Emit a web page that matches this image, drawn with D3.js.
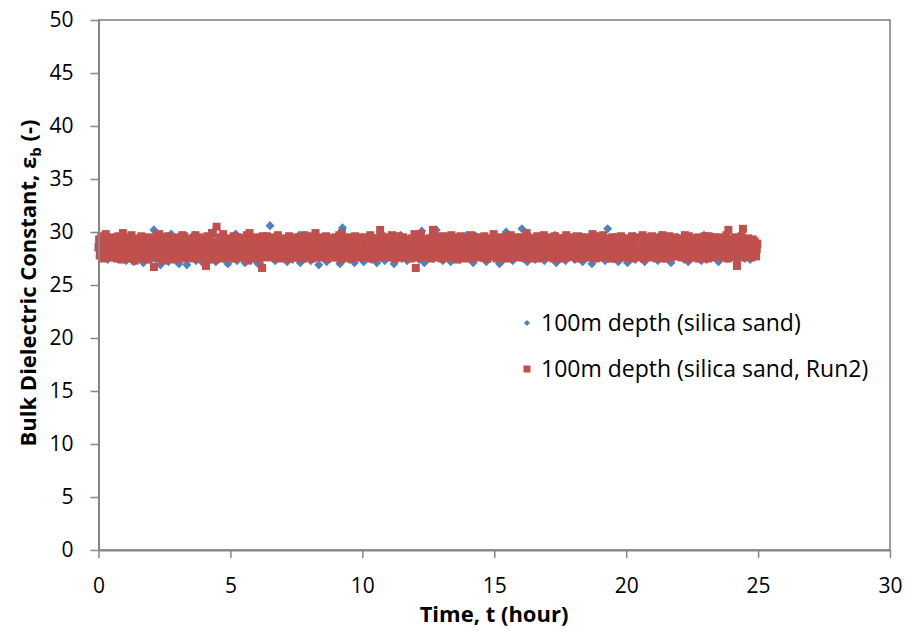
<!DOCTYPE html>
<html>
<head>
<meta charset="utf-8">
<script src="https://cdn.jsdelivr.net/npm/d3@7"></script>
<style>
  body { margin: 0; background: #fff; }
  svg { display: block; font-family: "Open Sans", "Noto Sans", sans-serif; }
  .tick text { font-size: 21px; fill: #000; }
  .title { font-size: 22px; font-weight: bold; }
  .legend text { font-size: 23px; }
</style>
</head>
<body>
<svg width="905" height="631"></svg>
<script>
// logger sampling (hours): run 1 every 0.05 h, run 2 every 0.025 h
var timeStart = 0, stepRun1 = 0.05, stepRun2 = 0.025;

// 100m depth (silica sand), 20 readings per hour
var silica = [
  28.3,27.6,29.1,28.8,27.9,28.5,29.4,27.4,28.1,29.0,28.6,27.8,29.3,28.2,27.5,28.9,29.5,28.0,27.7,28.7,
  29.2,27.3,28.4,28.9,27.9,29.6,28.1,27.2,28.7,29.0,28.3,27.6,29.4,28.5,27.1,28.8,29.1,27.8,28.2,29.3,
  27.4,28.6,30.2,28.0,27.5,29.2,28.4,26.9,28.9,29.5,27.7,28.3,29.0,27.2,28.6,29.8,28.1,27.6,28.8,29.1,
  28.2,27.0,29.3,28.5,27.8,29.6,28.0,26.9,28.7,29.2,27.5,28.4,29.7,28.1,27.3,28.9,29.4,27.9,28.3,27.1,
  29.0,28.5,27.6,29.5,28.2,27.4,28.8,30.0,28.4,27.2,28.9,29.3,27.8,28.6,29.6,27.5,28.1,29.1,27.0,28.7,
  28.4,29.2,27.7,28.9,29.8,27.3,28.3,29.0,27.9,28.6,29.4,27.1,28.8,29.5,28.0,27.6,29.2,28.5,27.4,29.0,
  28.1,27.0,29.3,28.7,26.8,28.4,29.6,27.8,28.9,29.1,30.6,28.3,27.5,28.0,27.3,28.8,29.4,27.9,28.6,29.2,
  27.6,28.5,29.0,27.2,28.8,29.5,28.2,27.4,28.6,29.3,27.9,28.1,29.7,27.1,28.4,29.0,28.7,27.5,29.2,28.3,
  28.9,27.3,28.5,29.4,27.8,28.2,29.6,26.9,28.7,29.1,27.6,28.4,29.0,27.2,28.8,29.5,28.0,27.7,29.3,28.6,
  27.9,28.4,29.2,27.0,28.7,30.4,28.1,27.5,28.9,29.3,27.4,28.6,29.0,28.2,27.1,28.8,29.5,27.8,28.3,29.1,
  28.5,27.2,29.4,28.0,27.7,28.9,29.6,27.4,28.3,29.0,28.7,27.1,29.2,28.4,27.8,29.5,28.1,27.3,28.8,29.3,
  28.2,27.6,29.1,28.6,27.0,28.9,29.4,27.8,28.4,29.7,27.5,28.1,29.0,28.7,27.3,28.5,29.2,27.9,28.3,29.5,
  27.7,28.8,29.3,27.4,28.2,30.1,28.6,27.1,28.9,29.2,27.8,28.4,29.6,28.0,27.5,28.7,30.2,27.6,28.3,29.0,
  28.6,27.3,29.1,28.8,27.9,28.2,29.5,27.2,28.5,29.4,27.7,28.9,29.0,28.1,27.4,28.6,29.3,27.8,28.4,29.7,
  28.0,27.5,29.2,28.7,27.1,28.4,29.6,27.9,28.8,29.1,27.6,28.3,29.4,28.5,27.2,28.9,29.0,27.7,28.2,29.5,
  28.4,27.8,29.3,28.1,27.0,28.7,29.5,27.4,28.9,30.0,27.6,28.2,29.1,28.6,27.3,28.8,29.4,27.9,28.5,29.2,
  28.3,30.3,27.5,28.8,29.0,27.2,28.5,29.6,27.8,28.1,29.3,27.4,28.7,29.5,28.0,27.6,28.9,29.1,27.3,28.4,
  29.0,27.7,28.6,29.4,27.9,28.2,29.7,27.1,28.8,29.2,27.5,28.4,29.0,28.7,27.3,28.5,29.5,27.8,28.1,29.3,
  28.6,27.4,29.1,28.3,27.8,28.9,29.6,27.2,28.5,29.0,27.7,28.2,29.4,28.8,27.0,28.4,29.2,27.6,28.7,29.5,
  28.1,27.9,29.3,28.6,27.3,28.8,30.3,27.5,28.4,29.1,27.8,28.0,29.5,28.7,27.2,28.9,29.0,27.6,28.3,29.4,
  28.5,27.1,29.2,28.2,27.7,28.9,29.6,27.4,28.6,29.3,27.9,28.3,29.0,28.8,27.2,28.4,29.5,27.8,28.1,29.1,
  28.7,27.5,29.4,28.0,27.3,28.6,29.7,27.9,28.8,29.2,27.6,28.4,29.0,28.5,27.1,28.9,29.3,27.7,28.2,29.5,
  28.3,27.8,29.1,28.7,27.4,28.5,29.6,27.2,28.9,29.0,27.9,28.1,29.4,28.6,27.5,28.8,29.2,27.3,28.4,29.7,
  28.6,27.4,29.3,28.2,27.9,28.8,29.5,27.6,28.4,29.1,27.2,28.7,29.0,28.3,27.8,28.5,29.4,27.5,28.9,29.2,
  28.2,27.7,29.1,28.6,27.3,28.9,29.6,27.8,28.4,29.0,27.5,28.3,29.3,28.7,27.4,28.8,29.2,27.9,28.5,28.6
];

// 100m depth (silica sand, Run2), 40 readings per hour
var silicaRun2 = [
  28.6,29.3,27.8,28.2,29.6,28.9,27.5,28.4,29.1,27.9,28.7,29.8,28.0,27.6,29.2,28.5,27.8,29.4,28.3,27.7,
  28.9,29.5,27.6,28.4,29.0,27.9,28.7,29.3,27.5,28.1,29.6,28.8,27.7,28.3,29.2,27.4,28.6,29.9,28.0,27.8,
  29.1,28.4,27.6,29.5,28.2,27.9,28.8,29.3,27.5,28.6,29.7,28.1,27.7,29.0,28.5,27.3,28.9,29.4,27.8,28.3,
  28.7,27.6,29.2,28.4,27.9,29.6,28.1,27.5,28.9,29.3,27.7,28.5,29.0,28.2,27.4,28.8,29.5,27.8,28.6,29.1,
  27.9,28.5,29.4,28.1,26.7,29.0,28.7,27.8,29.7,28.3,27.5,28.9,29.8,28.0,27.7,29.2,28.4,27.3,28.8,29.5,
  28.2,27.7,29.1,28.6,27.9,29.6,28.4,27.5,28.8,29.3,28.0,27.6,29.0,28.5,27.8,29.4,28.1,27.4,28.9,29.2,
  28.5,27.8,29.5,28.2,27.6,29.1,28.7,29.7,27.9,28.4,29.6,28.0,27.5,28.8,29.3,27.7,28.3,29.0,28.6,27.9,
  29.2,28.1,27.6,29.4,28.5,27.8,28.9,29.7,27.5,28.3,29.0,28.6,27.7,29.5,28.2,27.9,28.8,29.3,27.6,28.4,
  28.7,27.9,29.1,26.8,27.5,29.6,28.0,27.8,28.9,29.4,27.6,28.5,29.9,28.2,27.7,29.0,28.6,27.4,28.8,30.5,
  28.1,27.7,29.5,28.4,27.9,29.2,28.7,27.5,28.9,29.8,28.0,27.6,29.1,28.5,27.8,29.4,28.2,27.6,28.8,29.0,
  28.4,27.8,29.3,28.6,27.5,29.6,28.1,27.9,28.9,29.2,27.7,28.3,29.5,28.0,27.6,29.0,28.7,27.8,28.5,29.4,
  28.8,27.6,29.1,28.2,27.9,29.7,28.5,27.3,28.7,29.9,28.1,27.8,29.3,28.4,27.6,29.0,28.9,27.7,28.3,29.5,
  28.0,27.9,29.4,28.6,27.5,29.2,28.3,27.8,26.6,29.6,27.7,28.5,29.0,28.2,27.6,29.6,28.7,27.9,28.4,29.3,
  28.6,27.7,29.2,28.3,27.9,29.5,28.0,27.6,28.8,29.1,27.8,28.4,29.7,28.1,27.5,29.0,28.7,27.9,28.5,29.4,
  28.3,27.6,29.3,28.7,27.8,29.0,28.2,27.5,28.9,29.6,28.0,27.7,29.2,28.5,27.9,29.4,28.1,27.6,28.8,29.1,
  28.7,27.9,29.5,28.0,27.6,29.2,28.6,27.8,28.4,29.0,27.5,28.9,29.7,28.2,27.7,29.3,28.5,27.8,28.1,29.6,
  28.4,27.8,29.1,28.8,27.5,29.4,28.1,27.7,28.9,29.9,27.6,28.3,29.0,28.6,27.9,29.5,28.2,27.6,28.7,29.2,
  28.2,27.7,29.3,28.5,27.9,29.6,28.0,27.5,28.8,29.1,27.8,28.4,29.4,28.7,27.6,29.0,28.3,27.9,28.6,29.5,
  28.9,27.6,29.2,28.1,27.8,29.7,28.5,27.4,28.6,29.9,28.2,27.7,29.1,28.4,27.9,29.3,28.8,27.6,28.0,29.5,
  28.3,27.9,29.4,28.6,27.5,29.0,28.2,27.8,28.9,29.6,27.7,28.4,29.2,28.7,27.6,29.5,28.1,27.9,28.5,29.1,
  28.6,27.7,29.3,28.2,27.9,29.5,28.4,27.6,28.8,29.0,27.8,28.5,29.7,28.0,27.5,29.2,28.7,27.9,28.3,29.4,
  28.1,27.8,29.1,28.7,27.6,29.4,28.3,30.2,28.9,29.6,28.0,27.7,29.2,28.5,27.9,29.0,28.6,27.8,28.4,29.5,
  28.5,27.6,29.3,28.0,27.8,29.7,28.6,27.9,28.2,29.1,27.5,28.8,29.4,28.3,27.7,29.6,28.1,27.6,28.9,29.2,
  28.4,27.9,29.5,28.7,27.6,29.0,28.2,27.8,28.5,29.3,27.7,28.6,29.1,28.0,27.5,29.4,28.8,27.9,28.3,29.8,
  28.7,26.6,29.2,28.1,27.6,29.5,28.5,27.7,28.9,29.8,28.0,27.6,29.3,28.4,27.9,29.0,28.6,27.8,28.2,29.1,
  28.3,27.7,29.4,28.8,27.5,29.1,28.0,30.2,28.6,29.5,27.8,28.2,29.0,28.5,27.6,29.6,28.1,27.9,28.7,29.3,
  28.9,27.5,29.2,28.3,27.8,29.6,28.6,27.7,28.1,29.0,27.9,28.5,29.4,28.2,27.6,29.7,28.4,27.8,28.8,29.1,
  28.0,27.8,29.5,28.6,27.4,29.2,28.3,27.9,28.7,29.6,27.6,28.1,29.3,28.9,27.7,29.0,28.4,27.5,28.6,29.4,
  28.5,27.6,29.1,28.2,27.9,29.7,28.8,27.5,28.3,29.4,28.0,27.7,29.2,28.6,27.8,29.5,28.1,27.6,28.9,29.0,
  28.7,27.9,29.3,28.4,27.6,29.6,28.1,27.8,28.5,29.2,27.5,28.8,29.0,28.3,27.7,29.4,28.6,27.9,28.2,29.8,
  28.2,27.7,29.4,28.9,27.5,29.1,28.4,27.8,28.6,29.5,27.9,28.0,29.3,28.7,27.6,29.0,28.3,27.7,28.8,29.6,
  28.6,27.5,29.2,28.1,27.8,29.7,28.5,27.6,28.9,29.3,28.0,27.9,29.0,28.4,27.7,29.5,28.2,27.6,28.7,29.1,
  28.4,27.8,29.5,28.7,27.6,29.0,28.2,27.9,28.5,29.9,27.7,28.3,29.2,28.8,27.5,29.4,28.0,27.8,28.6,29.3,
  28.9,27.6,29.1,28.3,27.9,29.6,28.6,27.5,28.1,29.4,27.8,28.7,29.0,28.2,27.6,29.7,28.5,27.9,28.4,29.2,
  28.1,27.9,29.3,28.6,27.7,29.5,28.4,27.6,28.8,29.1,27.5,28.2,29.6,28.9,27.8,29.0,28.3,27.7,28.5,29.4,
  28.7,27.5,29.4,28.0,27.8,29.2,28.6,27.9,28.3,29.7,27.6,28.8,29.1,28.4,27.7,29.5,28.1,27.8,28.9,29.0,
  28.3,27.8,29.2,28.8,27.6,29.6,28.1,27.5,28.7,29.3,27.9,28.4,29.5,28.0,27.7,29.1,28.6,27.6,28.2,29.4,
  28.5,27.7,29.5,28.2,27.9,29.0,28.7,27.6,28.4,29.8,27.8,28.1,29.3,28.6,27.5,29.6,28.3,27.9,28.8,29.2,
  28.0,27.6,29.3,28.5,27.8,29.7,28.3,27.9,28.9,29.1,27.7,28.6,29.0,28.2,27.6,29.4,28.7,27.5,28.4,29.5,
  28.8,27.9,29.1,28.4,27.5,29.5,28.0,27.7,28.6,29.2,27.8,28.3,29.6,28.9,27.6,29.0,28.2,27.8,28.5,29.3,
  28.2,27.6,29.4,28.7,27.9,29.1,28.5,27.8,28.1,29.6,27.5,28.8,29.2,28.3,27.7,29.5,28.6,27.9,28.0,29.0,
  28.6,27.8,29.2,28.0,27.6,29.7,28.4,27.5,28.9,29.3,27.9,28.2,29.0,28.7,27.8,29.4,28.1,27.6,28.5,29.6,
  28.4,27.7,29.5,28.8,27.8,29.0,28.2,27.9,28.6,29.4,27.6,28.5,29.1,28.0,27.5,29.7,28.3,27.8,28.9,29.2,
  28.9,27.5,29.3,28.3,27.9,29.6,28.7,27.6,28.1,29.0,27.8,28.4,29.5,28.6,27.7,29.2,28.0,27.9,28.4,29.1,
  28.1,27.9,29.1,28.6,27.6,29.4,28.3,27.8,28.8,29.7,27.7,28.2,29.0,28.5,27.5,29.6,28.7,27.6,28.3,29.3,
  28.7,27.6,29.4,28.2,27.8,29.1,28.5,27.9,28.3,29.5,27.5,28.9,29.2,28.0,27.8,29.0,28.6,27.7,28.4,29.6,
  28.3,27.8,29.2,28.9,27.5,29.6,28.1,27.7,28.7,29.3,28.0,27.6,29.5,28.4,27.9,29.1,28.2,27.8,28.6,29.4,
  28.6,27.7,29.5,28.0,27.9,29.0,28.8,27.6,28.4,29.2,27.8,28.3,29.7,28.6,27.5,30.2,28.1,27.9,28.5,29.1,
  28.2,27.9,29.3,28.7,27.6,29.5,28.4,27.8,26.8,29.1,27.7,28.5,29.4,28.0,27.6,29.6,28.3,30.3,28.8,29.0,
  28.5,27.7,29.2,28.1,27.8,29.4,28.6,27.9,28.3,29.0,27.6,28.7,29.3,28.2,27.8,29.1,28.5,27.7,28.4,28.9
];

var seriesNames = ["100m depth (silica sand)", "100m depth (silica sand, Run2)"];
var xTicks = [0, 5, 10, 15, 20, 25, 30];
var yTicks = [0, 5, 10, 15, 20, 25, 30, 35, 40, 45, 50];

var svg = d3.select("svg");
var plotLeft = 98.5, plotRight = 890, plotTop = 20, plotBottom = 550;
var sq = 8; // red marker side

var x = d3.scaleLinear().domain([0, 30]).range([plotLeft, plotRight]);
var y = d3.scaleLinear().domain([0, 50]).range([plotBottom, plotTop]);

function toPoints(vals, step) {
  return vals.map(function(v, i) { return { t: timeStart + i * step, v: v }; });
}

// plot area border (top / right)
svg.append("rect")
  .attr("x", plotLeft).attr("y", plotTop)
  .attr("width", plotRight - plotLeft).attr("height", plotBottom - plotTop)
  .attr("fill", "none").attr("stroke", "#3a3a3a").attr("stroke-width", 1);

// blue diamonds first, red squares drawn over them
var diamond = d3.symbol().type(d3.symbolDiamond2).size(52);

svg.append("g").selectAll("path")
  .data(toPoints(silica, stepRun1))
  .enter().append("path")
  .attr("d", diamond)
  .attr("transform", function(d) { return "translate(" + x(d.t) + "," + y(d.v) + ")"; })
  .attr("fill", "#4f81bd");

svg.append("g").selectAll("rect")
  .data(toPoints(silicaRun2, stepRun2))
  .enter().append("rect")
  .attr("x", function(d) { return x(d.t) - sq / 2; })
  .attr("y", function(d) { return y(d.v) - sq / 2; })
  .attr("width", sq).attr("height", sq)
  .attr("fill", "#c0504d");

// axes
var yAxis = svg.append("g")
  .attr("transform", "translate(" + plotLeft + ",0)")
  .call(d3.axisLeft(y).tickValues(yTicks).tickSize(8).tickSizeOuter(0).tickPadding(17));

var xAxis = svg.append("g")
  .attr("transform", "translate(0," + plotBottom + ")")
  .call(d3.axisBottom(x).tickValues(xTicks).tickSize(8).tickSizeOuter(0).tickPadding(20));

[xAxis, yAxis].forEach(function(a) {
  a.attr("font-family", null).attr("font-size", null);
  a.select(".domain").attr("stroke", "#868686").attr("stroke-width", 2);
  a.selectAll(".tick line").attr("stroke", "#868686").attr("stroke-width", 1.5);
});

// titles
svg.append("text")
  .attr("class", "title")
  .attr("x", 494).attr("y", 622)
  .attr("text-anchor", "middle")
  .text("Time, t (hour)");

var yt = svg.append("text")
  .attr("class", "title")
  .attr("transform", "translate(36,283) rotate(-90)")
  .attr("text-anchor", "middle");
yt.append("tspan").text("Bulk Dielectric Constant, ε");
yt.append("tspan").attr("font-size", "15px").attr("dy", 5).text("b");
yt.append("tspan").attr("dy", -5).text(" (-)");

// legend
var legend = svg.append("g").attr("class", "legend");
var legendY = [323, 369];

legend.append("path")
  .attr("d", d3.symbol().type(d3.symbolDiamond2).size(24))
  .attr("transform", "translate(527," + legendY[0] + ")")
  .attr("fill", "#4f81bd");
legend.append("rect")
  .attr("x", 523.5).attr("y", legendY[1] - 3.5)
  .attr("width", 7).attr("height", 7)
  .attr("fill", "#c0504d");

legend.selectAll("text")
  .data(seriesNames)
  .enter().append("text")
  .attr("x", 541)
  .attr("y", function(d, i) { return legendY[i]; })
  .attr("dy", "0.35em")
  .text(function(d) { return d; });
</script>
</body>
</html>
